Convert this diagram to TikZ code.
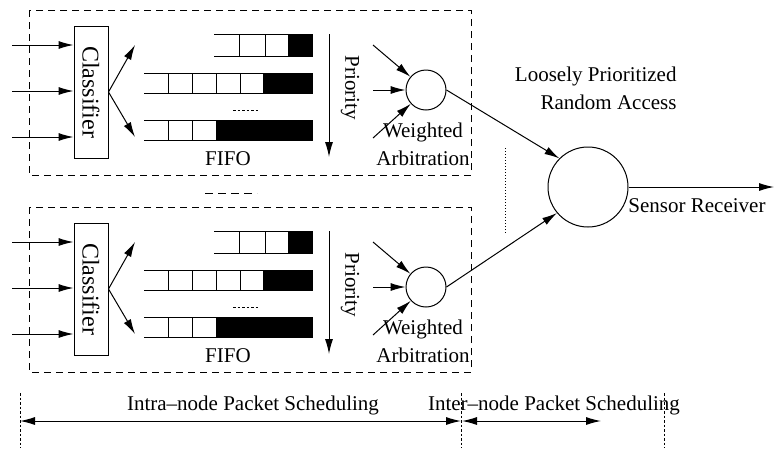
\documentclass[tikz,border=0pt]{standalone}
\usepackage{fontspec}
\setmainfont{Liberation Serif}
\usetikzlibrary{arrows.meta,calc}
\tikzset{
  lbl/.style={font=\fontsize{21}{28}\selectfont,inner sep=0pt},
  clsbox/.style={draw,rotate=-90,minimum width=132pt,minimum height=34pt,inner sep=0pt,font=\fontsize{24}{28}\selectfont},
  arr/.style={-{Latex[length=15pt,width=8pt]}},
  darr/.style={{Latex[length=15pt,width=8pt]}-{Latex[length=15pt,width=8pt]}},
  blockbox/.style={dash pattern=on 7pt off 5pt},
  bar/.style={dash pattern=on 2.5pt off 2pt}
}

\begin{document}
\begin{tikzpicture}[x=1pt,y=-1pt,line width=1pt]
      \useasboundingbox (0,0) rectangle (774,448);
      \begin{scope}
        \draw[blockbox] (29,10) rectangle (471,175);
        \node[clsbox](cls1) at (91,92) {Classifier};
        \coordinate (inA1) at (12,45);
        \coordinate (inB1) at (12,91);
        \coordinate (inC1) at (12,137);
        \draw[arr] (inA1) -- (inA1 -| cls1.south);
        \draw[arr] (inB1) -- (inB1 -| cls1.south);
        \draw[arr] (inC1) -- (inC1 -| cls1.south);
        \draw[arr] (cls1.north) -- (135,45);
        \draw[arr] (cls1.north) -- (135,137);
        % queues
        \draw (214,34) -- (313,34) (214,56) -- (313,56) (239,34) -- (239,56) (265,34) -- (265,56);
        \fill (288,34) rectangle (313,56);
        \draw (144,73) -- (313,73) (144,93) -- (313,93);
        \foreach \x in {168,192,216,240} \draw (\x,73) -- (\x,93);
        \fill (263,73) rectangle (313,93);
        \draw[bar,line width=0.7pt] (233,110) -- (258,110);
        \draw (144,120) -- (313,120) (144,140) -- (313,140) (168,120) -- (168,140) (192,120) -- (192,140);
        \fill (216,120) rectangle (313,140);
        \node[lbl](fifo1) at (228,159) {FIFO};
        \draw[arr] (329,34) -- (329,157);
        \node[lbl,rotate=-90](prio1) at (350,88) {Priority};
        \node[draw,circle,minimum size=40pt,inner sep=0pt](arb1) at (426,90) {};
        \draw[arr] (373,45) -- (arb1);
        \draw[arr] (373,90) -- (arb1.west);
        \draw[arr] (373,138) -- (arb1);
        \node[lbl,align=center](wa1) at (423,144) {Weighted\\Arbitration};
      \end{scope}
      \draw[dash pattern=on 8pt off 5pt] (205,193) -- (257,193);
      \begin{scope}[shift={(0,197)}]
        \draw[blockbox] (29,10) rectangle (471,175);
        \node[clsbox](cls2) at (91,92) {Classifier};
        \coordinate (inA2) at (12,45);
        \coordinate (inB2) at (12,91);
        \coordinate (inC2) at (12,137);
        \draw[arr] (inA2) -- (inA2 -| cls2.south);
        \draw[arr] (inB2) -- (inB2 -| cls2.south);
        \draw[arr] (inC2) -- (inC2 -| cls2.south);
        \draw[arr] (cls2.north) -- (135,45);
        \draw[arr] (cls2.north) -- (135,137);
        % queues
        \draw (214,34) -- (313,34) (214,56) -- (313,56) (239,34) -- (239,56) (265,34) -- (265,56);
        \fill (288,34) rectangle (313,56);
        \draw (144,73) -- (313,73) (144,93) -- (313,93);
        \foreach \x in {168,192,216,240} \draw (\x,73) -- (\x,93);
        \fill (263,73) rectangle (313,93);
        \draw[bar,line width=0.7pt] (233,110) -- (258,110);
        \draw (144,120) -- (313,120) (144,140) -- (313,140) (168,120) -- (168,140) (192,120) -- (192,140);
        \fill (216,120) rectangle (313,140);
        \node[lbl](fifo2) at (228,159) {FIFO};
        \draw[arr] (329,34) -- (329,157);
        \node[lbl,rotate=-90](prio2) at (350,88) {Priority};
        \node[draw,circle,minimum size=40pt,inner sep=0pt](arb2) at (426,90) {};
        \draw[arr] (373,45) -- (arb2);
        \draw[arr] (373,90) -- (arb2.west);
        \draw[arr] (373,138) -- (arb2);
        \node[lbl,align=center](wa2) at (423,144) {Weighted\\Arbitration};
      \end{scope}
      % receiver
      \node[draw,circle,minimum size=80pt,inner sep=0pt](rx) at (588,187) {};
      \draw[arr] (arb1.east) -- (rx.135);
      \draw[arr] (arb2.east) -- (rx.220);
      \coordinate (out) at (774,187);
      \draw[arr] (rx.east) -- (out);
      \node[lbl](sr) at (697,206) {Sensor Receiver};
      \node[lbl,align=right,anchor=east](lpra) at (677,88) {Loosely Prioritized\\Random Access};
      \draw[dotted] (505,148) -- (505,233);
      % scheduling ranges
      \coordinate (sL) at (20,421);
      \coordinate (sM) at (461,421);
      \coordinate (sR) at (601,421);
      \draw[bar] (20,393) -- (20,448) (461,393) -- (461,448) (664,393) -- (664,448);
      \draw[darr] (sL) -- (sM);
      \draw[darr] ($(sM)+(1,0)$) -- (sR);
      \node[lbl](intra) at (253,405) {Intra--node Packet Scheduling};
      \node[lbl](inter) at (554,405) {Inter--node Packet Scheduling};
\end{tikzpicture}
\end{document}
